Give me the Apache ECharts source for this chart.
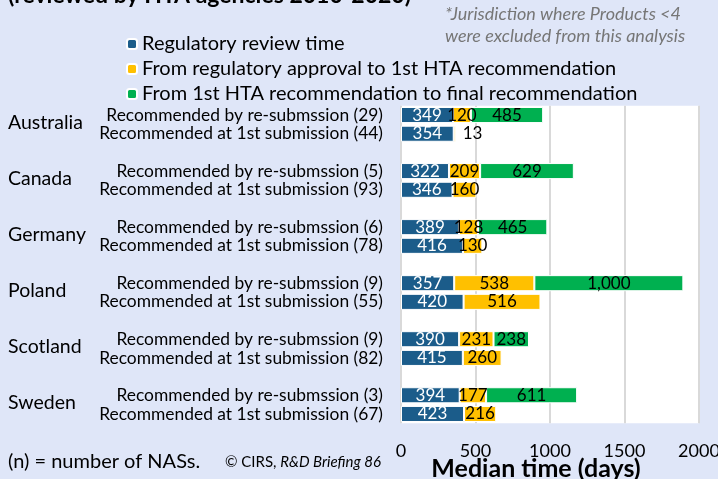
<!DOCTYPE html>
<html><head><meta charset="utf-8">
<script src="https://cdn.jsdelivr.net/npm/echarts@6/dist/echarts.min.js"></script>
<style>html,body{margin:0;padding:0;background:#dfe6f8;}#c{width:718px;height:479px;}</style>
</head><body><div id="c"></div>
<script>
const countries = ['Australia','Canada','Germany','Poland','Scotland','Sweden'];
const subLabels = [
  'Recommended by re-submssion (29)','Recommended at 1st submission (44)',
  'Recommended by re-submssion (5)','Recommended at 1st submission (93)',
  'Recommended by re-submssion (6)','Recommended at 1st submission (78)',
  'Recommended by re-submssion (9)','Recommended at 1st submission (55)',
  'Recommended by re-submssion (9)','Recommended at 1st submission (82)',
  'Recommended by re-submssion (3)','Recommended at 1st submission (67)'
];
const regulatory = [349,354,322,346,389,416,357,420,390,415,394,423];
const toFirstHTA = [120,13,209,160,128,130,538,516,231,260,177,216];
const toFinal = [485,null,629,null,465,null,1000,null,238,null,611,null];
const seriesNames = ['Regulatory review time','From regulatory approval to 1st HTA recommendation','From 1st HTA recommendation to final recommendation'];
const xTicks = [0,500,1000,1500,2000];

// build category slots (unique keys) with a blank slot between countries
const cats = [], idxMap = [];
subLabels.forEach((s,i)=>{
  if(i>0 && i%2===0){ cats.push('blank_'+i); idxMap.push(-1); }
  cats.push('row_'+i); idxMap.push(i);
});
const fill = arr => idxMap.map(i => i<0 ? null : arr[i]);

const font = 'Lato, "Open Sans", sans-serif';
const chart = echarts.init(document.getElementById('c'));
const fmt = p => p.value==null ? '' : Number(p.value).toLocaleString('en-US');
const mk = (name, data, color, textColor) => ({
  name, type:'bar', stack:'t', data, barCategoryGap:'14%',
  itemStyle:{color, borderColor:'#fff', borderWidth:1},
  label:{show:true, position:'inside', formatter:fmt, color:textColor, fontSize:17, fontFamily:font},
  emphasis:{disabled:true}, animation:false
});
const yellowData = fill(toFirstHTA).map((v,k)=> (idxMap[k]===1) ? {value:v, label:{position:'right', distance:7}} : v);
chart.setOption({
  backgroundColor:'#dfe6f8',
  animation:false,
  grid:{left:401, right:19, top:105.7, bottom:55.7, show:true, backgroundColor:'#fff', borderWidth:0,
    containLabel:false, outerBoundsMode:'none'},
  legend:{orient:'vertical', left:121, top:29, itemWidth:10, itemHeight:10, itemGap:5,
    textStyle:{fontSize:20, fontFamily:font, color:'#000'}, data:seriesNames},
  xAxis:{type:'value', min:xTicks[0], max:xTicks[xTicks.length-1], interval:500,
    axisLine:{show:false}, axisTick:{show:false},
    splitLine:{lineStyle:{color:'#d9d9d9', width:2}},
    axisLabel:{fontSize:18, fontFamily:font, color:'#000', margin:19, formatter:v=>String(v)},
    name:'Median time (days)', nameLocation:'middle', nameGap:33, nameMoveOverlap:false,
    nameTextStyle:{fontSize:25, fontWeight:'bold', fontFamily:font, color:'#000', padding:[0,28,0,0]}},
  yAxis:{type:'category', inverse:true, data:cats,
    axisLine:{show:false}, axisTick:{show:false},
    axisLabel:{fontSize:17.4, fontFamily:font, color:'#000', margin:18, interval:0,
      formatter:(v,k) => idxMap[k] < 0 ? '' : subLabels[idxMap[k]]}},
  series:[
    mk(seriesNames[0], fill(regulatory), '#1b5c8a', '#fff'),
    mk(seriesNames[1], yellowData, '#ffc000', '#000'),
    mk(seriesNames[2], fill(toFinal), '#00b050', '#000')
  ]
});
// country names centred between their two rows, positioned via the axis
const g = [];
countries.forEach((c,i)=>{
  const a = idxMap.indexOf(2*i), b = idxMap.indexOf(2*i+1);
  const y = (chart.convertToPixel({yAxisIndex:0}, a) + chart.convertToPixel({yAxisIndex:0}, b))/2;
  g.push({type:'text', left:8, top:y-12, style:{text:c, fontSize:19.5, fontFamily:font, fill:'#000'}});
});
g.push({type:'text', left:8, top:-16, style:{text:'(reviewed by HTA agencies 2010-2020)', fontSize:23, fontWeight:'bold', fontFamily:font, fill:'#000'}});
g.push({type:'text', left:445, top:3, style:{text:'*Jurisdiction where Products <4\nwere excluded from this analysis', fontSize:18, fontStyle:'italic', fontFamily:font, fill:'#767676', lineHeight:22}});
g.push({type:'text', left:8, top:452, style:{text:'(n) = number of NASs.', fontSize:20, fontFamily:font, fill:'#000'}});
g.push({type:'text', left:225, top:455, style:{rich:{a:{fontSize:15, fontFamily:font, fill:'#000'}, b:{fontSize:15, fontFamily:font, fontStyle:'italic', fill:'#000'}}, text:'{a|© CIRS, }{b|R&D Briefing 86}'}});
chart.setOption({graphic:g});
</script></body></html>
